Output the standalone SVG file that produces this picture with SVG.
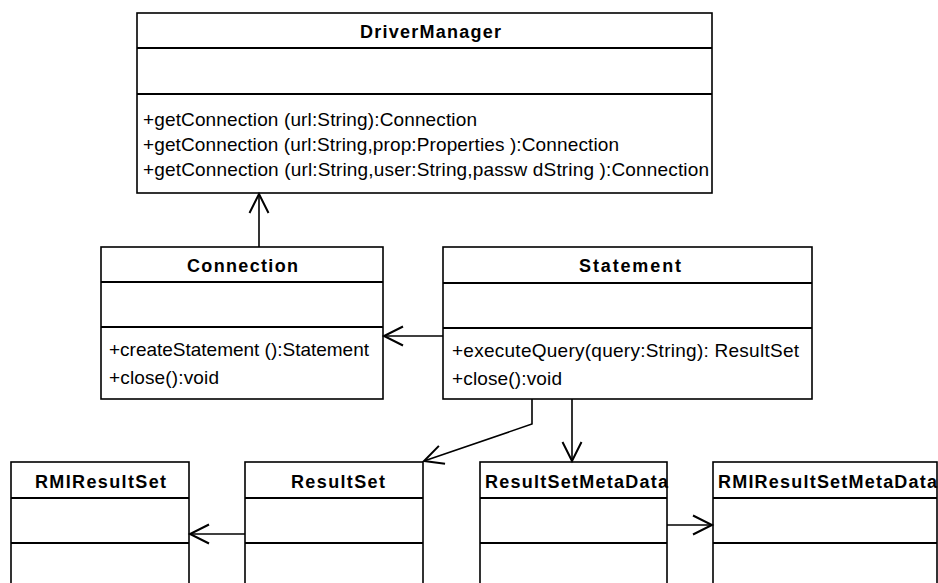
<svg xmlns="http://www.w3.org/2000/svg" width="938" height="583" viewBox="0 0 938 583">
  <style>
    .box { fill: #ffffff; stroke: #000000; stroke-width: 1.6; }
    .sep { stroke: #000000; stroke-width: 2.2; }
    .title { font-family: "Liberation Sans", Arial, sans-serif; font-size: 18px; font-weight: bold; fill: #000000; }
    .op { font-family: "Liberation Sans", Arial, sans-serif; font-size: 19px; fill: #000000; }
    .link { fill: none; stroke: #000000; stroke-width: 1.6; }
  </style>
  <defs>
    <marker id="open" markerUnits="userSpaceOnUse" markerWidth="30" markerHeight="30" refX="0" refY="0" viewBox="-25 -15 30 30" orient="auto" overflow="visible">
      <path d="M-19,-9.5 L0,0 L-19,9.5" fill="none" stroke="#000000" stroke-width="2"/>
    </marker>
  </defs>
  <rect width="938" height="583" fill="#ffffff"/>

  <g id="DriverManager">
    <rect class="box" x="137" y="13" width="575" height="180"/>
    <line class="sep" x1="137" y1="48" x2="712" y2="48"/>
    <line class="sep" x1="137" y1="94" x2="712" y2="94"/>
    <text class="title" x="360" y="38" textLength="141" lengthAdjust="spacing">DriverManager</text>
    <text class="op" x="143" y="126" textLength="334" lengthAdjust="spacing">+getConnection (url:String):Connection</text>
    <text class="op" x="143" y="151" textLength="476" lengthAdjust="spacing">+getConnection (url:String,prop:Properties ):Connection</text>
    <text class="op" x="143" y="176" textLength="566" lengthAdjust="spacing">+getConnection (url:String,user:String,passw dString ):Connection</text>
  </g>

  <g id="Connection">
    <rect class="box" x="101" y="247" width="282" height="152"/>
    <line class="sep" x1="101" y1="282" x2="383" y2="282"/>
    <line class="sep" x1="101" y1="327" x2="383" y2="327"/>
    <text class="title" x="187" y="272" textLength="111" lengthAdjust="spacing">Connection</text>
    <text class="op" x="109" y="356" textLength="260" lengthAdjust="spacing">+createStatement ():Statement</text>
    <text class="op" x="109" y="384" textLength="110" lengthAdjust="spacing">+close():void</text>
  </g>

  <g id="Statement">
    <rect class="box" x="443" y="247" width="369" height="152"/>
    <line class="sep" x1="443" y1="283" x2="812" y2="283"/>
    <line class="sep" x1="443" y1="328" x2="812" y2="328"/>
    <text class="title" x="579" y="272" textLength="102" lengthAdjust="spacing">Statement</text>
    <text class="op" x="452" y="357" textLength="347" lengthAdjust="spacing">+executeQuery(query:String): ResultSet</text>
    <text class="op" x="452" y="385" textLength="110" lengthAdjust="spacing">+close():void</text>
  </g>

  <g id="RMIResultSet">
    <rect class="box" x="11" y="462" width="178" height="140"/>
    <line class="sep" x1="11" y1="498" x2="189" y2="498"/>
    <line class="sep" x1="11" y1="543" x2="189" y2="543"/>
    <text class="title" x="35" y="488" textLength="131" lengthAdjust="spacing">RMIResultSet</text>
  </g>

  <g id="ResultSet">
    <rect class="box" x="245" y="462" width="178" height="140"/>
    <line class="sep" x1="245" y1="498" x2="423" y2="498"/>
    <line class="sep" x1="245" y1="543" x2="423" y2="543"/>
    <text class="title" x="291" y="488" textLength="94" lengthAdjust="spacing">ResultSet</text>
  </g>

  <g id="ResultSetMetaData">
    <rect class="box" x="480" y="462" width="187" height="140"/>
    <line class="sep" x1="480" y1="498" x2="667" y2="498"/>
    <line class="sep" x1="480" y1="543" x2="667" y2="543"/>
    <text class="title" x="485" y="488" textLength="183" lengthAdjust="spacing">ResultSetMetaData</text>
  </g>

  <g id="RMIResultSetMetaData">
    <rect class="box" x="713" y="462" width="224" height="140"/>
    <line class="sep" x1="713" y1="498" x2="937" y2="498"/>
    <line class="sep" x1="713" y1="543" x2="937" y2="543"/>
    <text class="title" x="718" y="488" textLength="219" lengthAdjust="spacing">RMIResultSetMetaData</text>
  </g>

  <g id="connectors">
    <path class="link" d="M259,247 L259,194" marker-end="url(#open)"/>
    <path class="link" d="M443,336 L384,336" marker-end="url(#open)"/>
    <path class="link" d="M532,399 L532,424 L424,461" marker-end="url(#open)"/>
    <path class="link" d="M572,399 L572,461" marker-end="url(#open)"/>
    <path class="link" d="M245,534 L190,534" marker-end="url(#open)"/>
    <path class="link" d="M667,525 L712,525" marker-end="url(#open)"/>
  </g>
</svg>
